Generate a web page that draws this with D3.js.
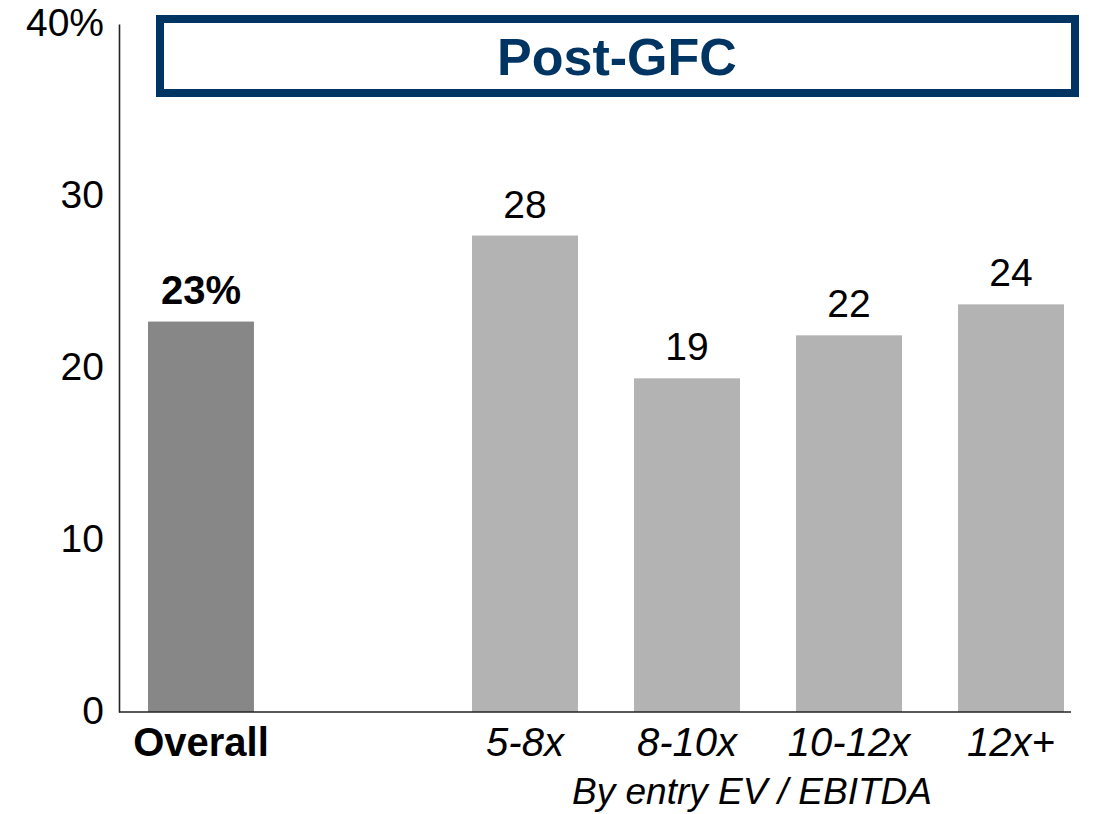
<!DOCTYPE html>
<html>
<head>
<meta charset="utf-8">
<script src="https://cdn.jsdelivr.net/npm/d3@7/dist/d3.min.js"></script>
<style>
  html, body { margin: 0; padding: 0; background: #fff; }
  svg { display: block; font-family: "Liberation Sans", Arial, sans-serif; }
</style>
</head>
<body>
<svg id="chart" width="1094" height="814"></svg>
<script>
// Median IRR by entry multiple, post-GFC deals
const categories = ["Overall", "5-8x", "8-10x", "10-12x", "12x+"];
const slots = [0, 2, 3, 4, 5];          // Overall sits apart from the multiple buckets
const values = [22.7, 27.7, 19.4, 21.9, 23.7];
const yTicks = [0, 10, 20, 30, 40];
const title = "Post-GFC";
const groupLabel = "By entry EV / EBITDA";

const svg = d3.select("#chart");

const x = d3.scaleBand()
  .domain(d3.range(6))
  .range([148, 1064])
  .paddingInner(0.346)
  .paddingOuter(0);

const y = d3.scaleLinear()
  .domain([0, 40])
  .range([712, 24]);

// Title box
svg.append("rect")
  .attr("x", 160).attr("y", 19)
  .attr("width", 915).attr("height", 74)
  .attr("fill", "none")
  .attr("stroke", "#003462")
  .attr("stroke-width", 8);

svg.append("text")
  .attr("x", 617).attr("y", 75)
  .attr("text-anchor", "middle")
  .attr("font-size", 52)
  .attr("font-weight", "bold")
  .attr("fill", "#003462")
  .text(title);

// Bars
const data = categories.map((c, i) => ({ cat: c, slot: slots[i], value: values[i], overall: i === 0 }));

svg.selectAll("rect.bar")
  .data(data)
  .join("rect")
  .attr("class", "bar")
  .attr("x", d => x(d.slot))
  .attr("width", x.bandwidth())
  .attr("y", d => y(d.value))
  .attr("height", d => y(0) - y(d.value))
  .attr("fill", d => d.overall ? "#878787" : "#b3b3b3");

// Value labels
svg.selectAll("text.val")
  .data(data)
  .join("text")
  .attr("class", "val")
  .attr("x", d => x(d.slot) + x.bandwidth() / 2)
  .attr("y", d => y(d.value) - 18)
  .attr("text-anchor", "middle")
  .attr("font-size", d => d.overall ? 40 : 39)
  .attr("font-weight", d => d.overall ? "bold" : "normal")
  .attr("fill", "#000")
  .text(d => d3.format(".0f")(d.value) + (d.overall ? "%" : ""));

// Y axis
const yAxis = svg.append("g").attr("transform", "translate(119,0)")
  .call(d3.axisLeft(y).tickValues(yTicks).tickSize(0).tickPadding(15)
    .tickFormat(d => d === 40 ? d + "%" : d));
yAxis.select(".domain").attr("stroke", "#222").attr("stroke-width", 1.6);
yAxis.selectAll("text")
  .attr("font-size", 39)
  .attr("font-family", "Liberation Sans, Arial, sans-serif")
  .attr("fill", "#000")
  .attr("dy", "0.3em");

// X baseline
svg.append("line")
  .attr("x1", 119).attr("x2", 1071)
  .attr("y1", y(0)).attr("y2", y(0))
  .attr("stroke", "#222").attr("stroke-width", 1.6);

// Category labels
svg.selectAll("text.cat")
  .data(data)
  .join("text")
  .attr("class", "cat")
  .attr("x", d => x(d.slot) + x.bandwidth() / 2)
  .attr("y", 756)
  .attr("text-anchor", "middle")
  .attr("font-size", 40)
  .attr("font-weight", d => d.overall ? "bold" : "normal")
  .attr("font-style", d => d.overall ? "normal" : "italic")
  .attr("fill", "#000")
  .text(d => d.cat);

svg.append("text")
  .attr("x", 752).attr("y", 804)
  .attr("text-anchor", "middle")
  .attr("font-size", 37)
  .attr("font-style", "italic")
  .attr("fill", "#000")
  .text(groupLabel);
</script>
</body>
</html>
